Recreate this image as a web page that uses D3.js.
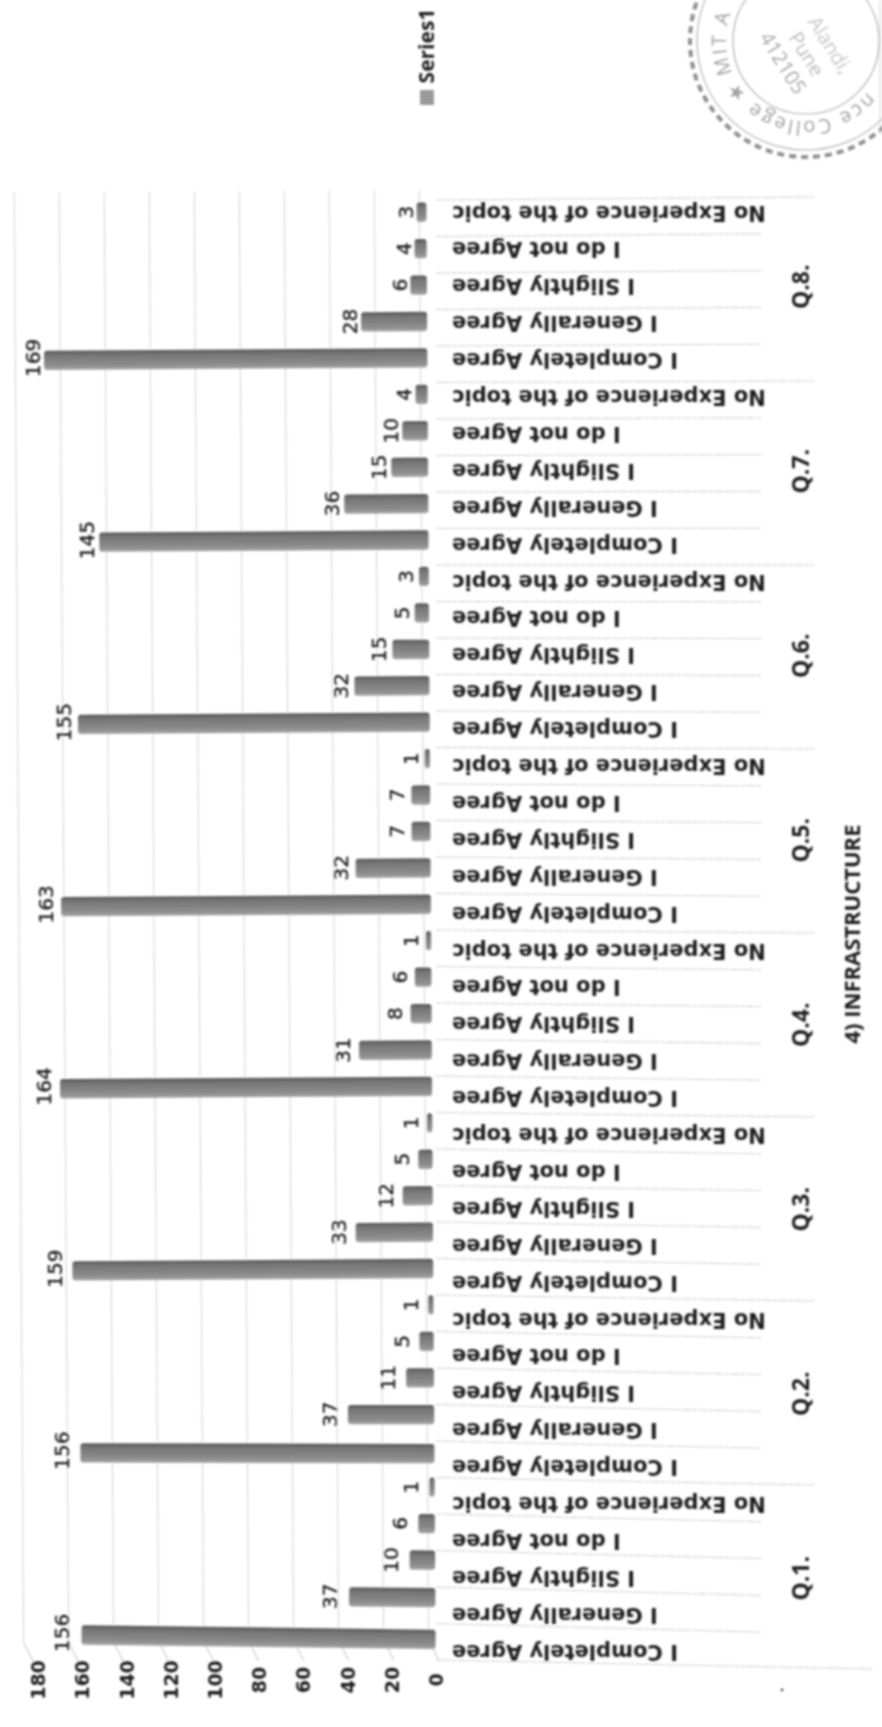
<!DOCTYPE html>
<html>
<head>
<meta charset="utf-8">
<script src="https://cdn.jsdelivr.net/npm/d3@7"></script>
<style>
  html, body { margin: 0; padding: 0; background: #fff; }
  text { font-family: "Open Sans", sans-serif; fill: #1f1f1f; }
</style>
</head>
<body>
<svg id="chart"></svg>
<script>
const questions = ["Q.1.", "Q.2.", "Q.3.", "Q.4.", "Q.5.", "Q.6.", "Q.7.", "Q.8."];
const answers = ["I Completely Agree", "I Generally Agree", "I Slightly Agree", "I do not Agree", "No Experience of the topic"];
const q1 = [156, 37, 10, 6, 1];
const q2 = [156, 37, 11, 5, 1];
const q3 = [159, 33, 12, 5, 1];
const q4 = [164, 31, 8, 6, 1];
const q5 = [163, 32, 7, 7, 1];
const q6 = [155, 32, 15, 5, 3];
const q7 = [145, 36, 15, 10, 4];
const q8 = [169, 28, 6, 4, 3];
const valueTicks = [0, 20, 40, 60, 80, 100, 120, 140, 160, 180];
const stampLines = ["Alandi,", "Pune", "412105"];
const allValues = [q1, q2, q3, q4, q5, q6, q7, q8];

const width = 882;
const height = 1727;

const svg = d3.select("#chart").attr("width", width).attr("height", height);

const data = [];
questions.forEach((q, i) => {
  answers.forEach((a, j) => {
    data.push({ key: q + a, q: q, answer: a, value: allValues[i][j] });
  });
});

// value axis runs right to left, the page was scanned on its side
const xWall = d3.scaleLinear().domain([0, 180]).range([424, 19]);
const xBar = d3.scaleLinear().domain([0, 180]).range([431, 26]);
const xTick = d3.scaleLinear().domain([0, 180]).range([436, 38]);

const yBar = d3.scaleBand().domain(data.map(d => d.key)).range([1651, 194]).paddingInner(0.47).paddingOuter(0.235);
const yLabel = d3.scaleBand().domain(data.map(d => d.key)).range([1670.5, 194.5]);
// separators fan out a little from the axis to the far end
const ySepNear = d3.scaleLinear().domain([0, data.length]).range([1660, 200]);
const ySepFar = d3.scaleLinear().domain([0, data.length]).range([1669, 197]);
// bars near the bottom of the sheet lean more, the page curled there
const lean = d3.scaleLinear().domain([1300, 1640]).range([0, 1.1]).clamp(true);

const defs = svg.append("defs");
defs.append("filter").attr("id", "scan").attr("x", "-2%").attr("y", "-2%").attr("width", "104%").attr("height", "104%")
  .append("feGaussianBlur").attr("stdDeviation", 0.8);
const barFill = defs.append("linearGradient").attr("id", "barFill").attr("x1", 0).attr("y1", 0).attr("x2", 0).attr("y2", 1);
barFill.append("stop").attr("offset", "0%").attr("stop-color", "#565656");
barFill.append("stop").attr("offset", "22%").attr("stop-color", "#757575");
barFill.append("stop").attr("offset", "75%").attr("stop-color", "#8c8c8c");
barFill.append("stop").attr("offset", "100%").attr("stop-color", "#a4a4a4");

const root = svg.append("g").attr("filter", "url(#scan)");

// wall and bars lean a little, the sheet was not straight on the scanner
const plot = root.append("g").attr("transform", "rotate(-0.37 424 925)");

plot.append("g").selectAll("line")
  .data(valueTicks)
  .join("line")
  .attr("x1", d => xWall(d))
  .attr("x2", d => xWall(d))
  .attr("y1", 190)
  .attr("y2", 1640)
  .attr("stroke", "#d2d2d2")
  .attr("stroke-width", 1);

// floor ticks joining the wall to the axis numbers
plot.append("g").selectAll("line")
  .data(valueTicks)
  .join("line")
  .attr("x1", d => xWall(d))
  .attr("x2", d => xWall(d) + 10)
  .attr("y1", 1640)
  .attr("y2", 1660)
  .attr("stroke", "#c4c4c4");

plot.append("g").selectAll("rect")
  .data(data)
  .join("rect")
  .attr("x", d => xBar(d.value) - 3)
  .attr("y", d => yBar(d.key))
  .attr("width", d => xBar(0) - xBar(d.value) + 3)
  .attr("height", yBar.bandwidth())
  .attr("rx", 3)
  .attr("fill", "url(#barFill)")
  .attr("transform", d => {
    const cy = yBar(d.key) + yBar.bandwidth() / 2;
    return `rotate(${lean(cy)} ${xBar(d.value)} ${cy})`;
  });

root.append("g").selectAll("text")
  .data(data)
  .join("text")
  .attr("transform", d => `translate(${xBar(d.value) - 18},${yBar(d.key) + yBar.bandwidth() / 2}) rotate(-90)`)
  .attr("text-anchor", "middle")
  .attr("dy", "0.35em")
  .style("font-family", "'DejaVu Sans', sans-serif")
  .attr("font-size", 20)
  .attr("stroke", "#1f1f1f")
  .attr("stroke-width", 0.4)
  .text(d => d.value);

// value axis, numbers turned with the page
const axisGroup = root.append("g")
  .attr("transform", "translate(0,1680)")
  .call(d3.axisBottom(xTick).tickValues(valueTicks).tickSize(0).tickFormat(d3.format("d")));
axisGroup.select(".domain").remove();
axisGroup.selectAll("text")
  .attr("transform", "rotate(-90)")
  .attr("x", 0)
  .attr("y", 0)
  .attr("dy", "0.35em")
  .attr("text-anchor", "middle")
  .style("font-family", "'DejaVu Sans', sans-serif")
  .attr("font-size", 19)
  .attr("font-weight", 700)
  .attr("fill", "#1f1f1f");

// separators between the categories
const sep = root.append("g");
d3.range(data.length + 1).forEach(i => {
  const far = i === 0 ? 872 : (i % 5 === 0 ? 814 : 762);
  sep.append("line")
    .attr("x1", 436)
    .attr("x2", far)
    .attr("y1", ySepNear(i))
    .attr("y2", ySepFar(i))
    .attr("stroke", "#cdcdcd")
    .attr("stroke-dasharray", "5 1 9 1");
});

// answers are upside down on the sheet
root.append("g").selectAll("text")
  .data(data)
  .join("text")
  .attr("transform", d => `translate(452,${yLabel(d.key) + yLabel.bandwidth() / 2}) rotate(180)`)
  .attr("text-anchor", "end")
  .attr("dy", "0.35em")
  .style("font-family", "'DejaVu Sans', sans-serif")
  .attr("font-size", 21)
  .attr("font-weight", 700)
  .text(d => d.answer);

root.append("g").selectAll("text")
  .data(questions)
  .join("text")
  .attr("transform", d => `translate(801,${yLabel(d + answers[2]) + yLabel.bandwidth() / 2}) rotate(-90)`)
  .attr("text-anchor", "middle")
  .attr("dy", "0.35em")
  .attr("font-size", 23)
  .attr("font-weight", 700)
  .text(d => d);

root.append("text")
  .attr("transform", "translate(852,934) rotate(-90)")
  .attr("text-anchor", "middle")
  .attr("dy", "0.35em")
  .attr("font-size", 22)
  .attr("font-weight", 700)
  .text("4) INFRASTRUCTURE");

// legend
root.append("rect").attr("x", 420).attr("y", 90).attr("width", 14).attr("height", 15).attr("fill", "#9a9a9a");
root.append("text")
  .attr("transform", "translate(427,46) rotate(-90)")
  .attr("text-anchor", "middle")
  .attr("dy", "0.35em")
  .attr("font-size", 21)
  .attr("font-weight", 700)
  .text("Series1");

// college stamp in the corner, cropped by the page edge
const stamp = root.append("g").attr("transform", "translate(806,41)");
const stampColor = "#a3a3a3";
stamp.append("circle").attr("r", 116).attr("fill", "none").attr("stroke", "#8f8f8f").attr("stroke-width", 4).attr("stroke-dasharray", "7 5");
stamp.append("circle").attr("r", 109).attr("fill", "none").attr("stroke", "#b5b5b5").attr("stroke-width", 1.2);
stamp.append("circle").attr("r", 73).attr("fill", "none").attr("stroke", "#b0b0b0").attr("stroke-width", 1.2);
defs.append("path").attr("id", "stampArc").attr("d", "M 80 0 A 80 80 0 1 1 -80 0 A 80 80 0 1 1 80 0");
stamp.append("text")
  .attr("font-size", 20)
  .attr("letter-spacing", 2)
  .style("fill", stampColor)
  .append("textPath")
  .attr("href", "#stampArc")
  .attr("startOffset", "11%")
  .text("nce College ★ MIT A");
stamp.selectAll("text.line")
  .data(stampLines)
  .join("text")
  .attr("class", "line")
  .attr("transform", (d, i) => `translate(${24 - i * 23.5},${4 + i * 9}) rotate(58)`)
  .attr("text-anchor", "middle")
  .attr("dy", "0.35em")
  .attr("font-size", 20)
  .style("fill", (d, i) => ["#c6c6c6", "#bcbcbc", "#a8a8a8"][i])
  .text(d => d);

// scan marks: right hand edge of the sheet and a speck
root.append("line").attr("x1", 880).attr("x2", 880).attr("y1", 0).attr("y2", 135).attr("stroke", "#d0d0d0");
root.append("circle").attr("cx", 782).attr("cy", 1690).attr("r", 1.3).attr("fill", "#333");
</script>
</body>
</html>
